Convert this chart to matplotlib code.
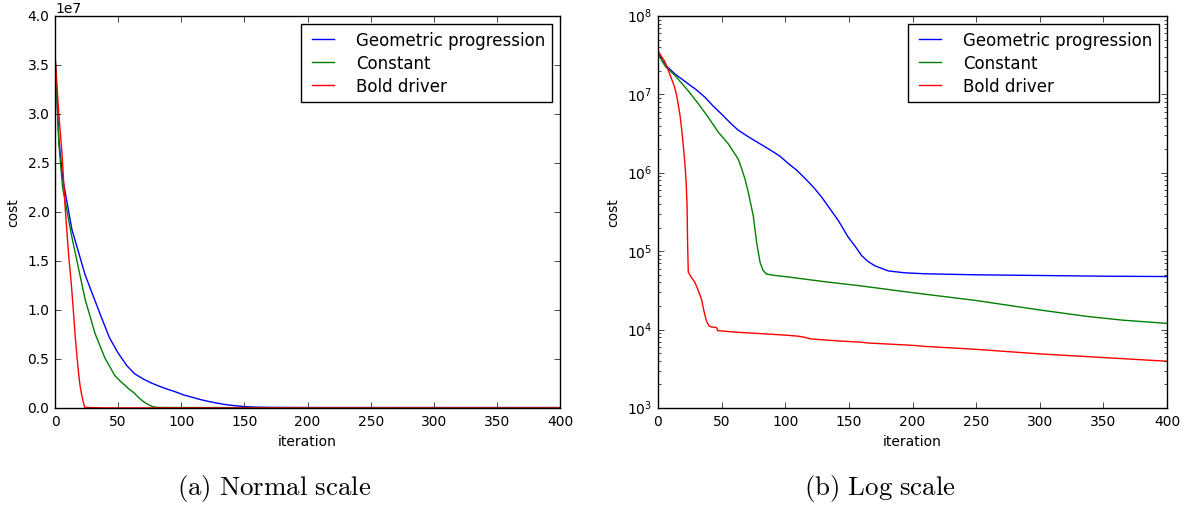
import matplotlib
matplotlib.use('Agg')
import matplotlib.pyplot as plt
import numpy as np

plt.style.use('classic')
plt.rcParams['font.size'] = 10
plt.rcParams['mathtext.fontset'] = 'cm'

# cost per iteration
geo_iter = [0, 3, 6, 13.4, 23.8, 30, 36.9, 43, 50, 57, 63, 70, 76, 83, 89, 96, 102, 109,
            115.5, 122, 128.6, 135, 141.7, 149.6, 155, 160, 165, 170.5, 181, 194, 210,
            250, 300, 350, 400]
geo_cost = [3.6e7, 2.75e7, 2.35e7, 1.82e7, 1.36e7, 1.15e7, 9.2e6, 7.2e6, 5.6e6, 4.3e6,
            3.5e6, 2.95e6, 2.57e6, 2.2e6, 1.92e6, 1.62e6, 1.33e6, 1.08e6, 8.5e5, 6.6e5,
            4.9e5, 3.5e5, 2.46e5, 1.5e5, 1.15e5, 8.8e4, 7.4e4, 6.5e4, 5.6e4, 5.3e4,
            5.15e4, 5.0e4, 4.9e4, 4.8e4, 4.75e4]

con_iter = [0, 3, 6, 13.4, 23.8, 31.7, 39.5, 47.4, 52, 55.3, 58, 63, 65.8, 68.4, 71,
            74.9, 77.5, 80.2, 82.5, 85.4, 92, 102, 130, 160, 197, 250, 298, 336, 365, 400]
con_cost = [3.6e7, 2.7e7, 2.25e7, 1.74e7, 1.11e7, 7.6e6, 5.1e6, 3.3e6, 2.7e6, 2.33e6,
            2.0e6, 1.5e6, 1.12e6, 8.3e5, 5.6e5, 2.8e5, 1.3e5, 7.2e4, 5.7e4, 5.1e4,
            4.9e4, 4.7e4, 4.1e4, 3.6e4, 3.0e4, 2.35e4, 1.8e4, 1.48e4, 1.32e4, 1.2e4]

bd_iter = [0, 3, 5.5, 8, 10.7, 13, 14.7, 16, 17.3, 18.6, 19.9, 21, 22, 22.8, 23.3, 23.8,
           26, 29, 31.5, 34.3, 36, 38, 40, 42, 45, 46, 47, 60, 80, 100, 110, 115, 120,
           140, 160, 165, 200, 210, 230, 250, 300, 350, 400]
bd_cost = [3.6e7, 3.0e7, 2.6e7, 2.05e7, 1.57e7, 1.25e7, 9.6e6, 7.3e6, 5.4e6, 3.6e6,
           2.2e6, 1.4e6, 8.3e5, 4e5, 1.2e5, 5.4e4, 4.7e4, 4.0e4, 3.2e4, 2.4e4, 1.75e4,
           1.3e4, 1.12e4, 1.08e4, 1.07e4, 1.06e4, 9.7e3, 9.3e3, 8.9e3, 8.5e3, 8.25e3,
           8.0e3, 7.6e3, 7.2e3, 6.9e3, 6.75e3, 6.3e3, 6.1e3, 5.85e3, 5.6e3, 4.9e3,
           4.4e3, 3.95e3]

labels = ['Geometric progression', 'Constant', 'Bold driver']
captions = [r'$\mathrm{(a)\ Normal\ scale}$', r'$\mathrm{(b)\ Log\ scale}$']

fig = plt.figure(figsize=(11.86, 5.06), dpi=100, facecolor='white')
ax1 = fig.add_axes([0.0464, 0.1917, 0.4258, 0.7747])
ax2 = fig.add_axes([0.5548, 0.1917, 0.4292, 0.7747])

for ax in (ax1, ax2):
    ax.plot(geo_iter, geo_cost, color='b', label=labels[0])
    ax.plot(con_iter, con_cost, color='g', label=labels[1])
    ax.plot(bd_iter, bd_cost, color='r', label=labels[2])
    ax.set_xlim(0, 400)
    ax.set_xlabel('iteration')
    ax.set_ylabel('cost')
    ax.legend(loc='upper right', fontsize=12, handlelength=1.9,
              handletextpad=1.0, labelspacing=0.3)

ax1.set_ylim(0, 4e7)
ax2.set_yscale('log')
ax2.set_ylim(1e3, 1e8)

fig.text(0.231, 0.034, captions[0], ha='center', va='center', fontsize=19.4)
fig.text(0.742, 0.034, captions[1], ha='center', va='center', fontsize=19.4)

fig.savefig('out.png', dpi=100, facecolor='white')
